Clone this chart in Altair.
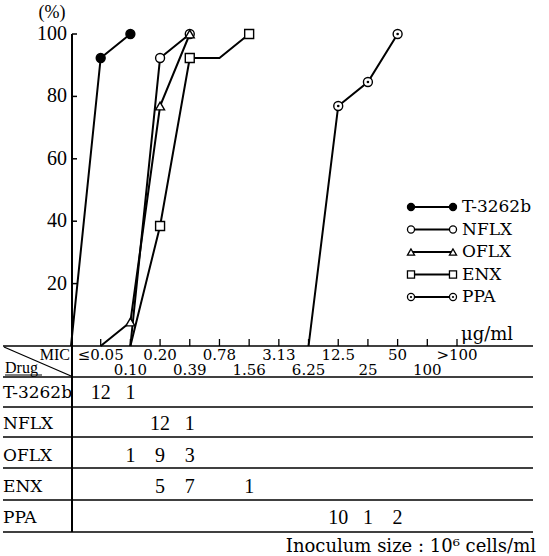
import altair as alt
import pandas as pd

# MIC classes (µg/ml); class k sits at position k+1 on the concentration axis
MIC_LABELS = ["≤0.05", "0.10", "0.20", "0.39", "0.78", "1.56", "3.13",
              "6.25", "12.5", "25", "50", "100", ">100"]
DRUGS = ["T-3262b", "NFLX", "OFLX", "ENX", "PPA"]

# number of strains inhibited at each MIC class
T3262B_COUNTS = [12, 1, 0, 0, 0, 0, 0, 0, 0, 0, 0, 0, 0]
NFLX_COUNTS = [0, 0, 12, 1, 0, 0, 0, 0, 0, 0, 0, 0, 0]
OFLX_COUNTS = [0, 1, 9, 3, 0, 0, 0, 0, 0, 0, 0, 0, 0]
ENX_COUNTS = [0, 0, 5, 7, 0, 1, 0, 0, 0, 0, 0, 0, 0]
PPA_COUNTS = [0, 0, 0, 0, 0, 0, 0, 0, 10, 1, 2, 0, 0]

Y_TICKS = [20, 40, 60, 80, 100]

COUNTS = dict(zip(DRUGS, [T3262B_COUNTS, NFLX_COUNTS, OFLX_COUNTS,
                          ENX_COUNTS, PPA_COUNTS]))

# cumulative curves: start at 0 % one class below the first hit
curve_rows, count_rows = [], []
for drug, counts in COUNTS.items():
    total = sum(counts)
    nz = [i for i, c in enumerate(counts) if c > 0]
    first, last = nz[0], nz[-1]
    curve_rows.append({"drug": drug, "pos": first, "pct": 0.0, "n": 0})
    cum = 0
    for i in range(first, last + 1):
        cum += counts[i]
        curve_rows.append({"drug": drug, "pos": i + 1,
                           "pct": 100.0 * cum / total, "n": counts[i]})
        if counts[i] > 0:
            count_rows.append({"drug": drug, "pos": i + 1, "n": str(counts[i])})
curve = pd.DataFrame(curve_rows)
marks = curve[curve["n"] > 0]
table_counts = pd.DataFrame(count_rows)

FONT = "Liberation Serif"
WIDE = "DejaVu Serif"

x_scale = alt.Scale(domain=[0, 13], range=[71, 457])
y_scale = alt.Scale(domain=[0, 100], range=[346, 34])
row_scale = alt.Scale(type="point", domain=DRUGS, range=[393, 518], padding=0)
shape_scale = alt.Scale(domain=DRUGS,
                        range=["circle", "circle", "triangle-up", "square", "circle"])
fill_scale = alt.Scale(domain=DRUGS,
                       range=["black", "white", "white", "white", "white"])

X = alt.X("pos:Q", scale=x_scale, axis=None)
Y = alt.Y("pct:Q", scale=y_scale, axis=None)

# --- cumulative curves -------------------------------------------------------
lines = alt.Chart(curve).mark_line(color="black", strokeWidth=2).encode(
    x=X, y=Y, detail="drug:N", order="pos:Q")

points = alt.Chart(marks).mark_point(
    filled=True, stroke="black", strokeWidth=1.4, size=80, opacity=1
).encode(
    x=X, y=Y,
    shape=alt.Shape("drug:N", scale=shape_scale, legend=None),
    fill=alt.Fill("drug:N", scale=fill_scale, legend=None),
)

ppa_dots = alt.Chart(marks[marks["drug"] == "PPA"]).mark_circle(
    size=7, color="black", opacity=1).encode(x=X, y=Y)

# --- y axis ------------------------------------------------------------------
ydf = pd.DataFrame({"pct": Y_TICKS})
y_line = alt.Chart(ydf).mark_rule(color="black", strokeWidth=1.6).encode(
    x=alt.value(72), y=alt.value(34), y2=alt.value(532))
y_ticks = alt.Chart(ydf).mark_rule(color="black", strokeWidth=1.5).encode(
    x=alt.value(72), x2=alt.value(77), y=Y)
y_labels = alt.Chart(ydf).mark_text(
    font=FONT, fontSize=20, align="right", baseline="middle"
).encode(x=alt.value(67), y=Y, text="pct:Q")
pct_title = alt.Chart(ydf.head(1)).mark_text(
    font=FONT, fontSize=18, align="center", baseline="middle"
).encode(x=alt.value(52), y=alt.value(13), text=alt.value("(%)"))

# --- concentration axis / table header ---------------------------------------
mic = pd.DataFrame({"label": MIC_LABELS, "pos": list(range(1, 14))})
mic["hy"] = [355 if p % 2 == 1 else 370 for p in mic["pos"]]
x_ticks = alt.Chart(mic).mark_rule(color="black", strokeWidth=1.3).encode(
    x=X, y=alt.value(339), y2=alt.value(346))
mic_labels = alt.Chart(mic).mark_text(
    font=WIDE, fontSize=15, align="center", baseline="middle"
).encode(x=X, y=alt.Y("hy:Q", scale=None, axis=None), text="label:N")
unit = alt.Chart(ydf.head(1)).mark_text(
    font=WIDE, fontSize=18, align="left", baseline="middle"
).encode(x=alt.value(461), y=alt.value(335), text=alt.value("μg/ml"))

# --- table frame -------------------------------------------------------------
hlines = pd.DataFrame({"y": [346, 377, 407, 437, 468, 500, 532]})
table_rules = alt.Chart(hlines).mark_rule(color="black", strokeWidth=1.5).encode(
    x=alt.value(3), x2=alt.value(533), y=alt.Y("y:Q", scale=None, axis=None))
diag = alt.Chart(ydf.head(1)).mark_rule(color="black", strokeWidth=1.3).encode(
    x=alt.value(4), y=alt.value(347), x2=alt.value(71), y2=alt.value(376))
mic_word = alt.Chart(ydf.head(1)).mark_text(
    font=FONT, fontSize=16, align="right", baseline="middle"
).encode(x=alt.value(70), y=alt.value(355), text=alt.value("MIC"))
drug_word = alt.Chart(ydf.head(1)).mark_text(
    font=FONT, fontSize=16, align="left", baseline="middle"
).encode(x=alt.value(5), y=alt.value(368), text=alt.value("Drug"))
drug_underline = alt.Chart(ydf.head(1)).mark_rule(color="black", strokeWidth=1).encode(
    x=alt.value(5), x2=alt.value(42), y=alt.value(375))

row_df = pd.DataFrame({"drug": DRUGS})
RY = alt.Y("drug:N", scale=row_scale, axis=None)
row_labels = alt.Chart(row_df).mark_text(
    font=WIDE, fontSize=17, align="left", baseline="middle"
).encode(x=alt.value(3), y=RY, text="drug:N")
cell_text = alt.Chart(table_counts).mark_text(
    font=FONT, fontSize=20, align="center", baseline="middle"
).encode(x=X, y=RY, text="n:N")

inoculum = alt.Chart(ydf.head(1)).mark_text(
    font=WIDE, fontSize=18, align="right", baseline="middle"
).encode(x=alt.value(536), y=alt.value(547),
         text=alt.value("Inoculum size : 10⁶ cells/ml"))

# --- legend ------------------------------------------------------------------
leg = pd.DataFrame({"drug": DRUGS, "ly": [207, 229.5, 252, 274.5, 297]})
LY = alt.Y("ly:Q", scale=None, axis=None)
leg_lines = alt.Chart(leg).mark_rule(color="black", strokeWidth=1.8).encode(
    x=alt.value(411), x2=alt.value(453), y=LY)
leg_ends = pd.concat([leg.assign(lx=411), leg.assign(lx=453)])
leg_points = alt.Chart(leg_ends).mark_point(
    filled=True, stroke="black", strokeWidth=1.3, size=50, opacity=1
).encode(
    x=alt.X("lx:Q", scale=None, axis=None), y=LY,
    shape=alt.Shape("drug:N", scale=shape_scale, legend=None),
    fill=alt.Fill("drug:N", scale=fill_scale, legend=None),
)
leg_dots = alt.Chart(leg_ends[leg_ends["drug"] == "PPA"]).mark_circle(
    size=5, color="black", opacity=1
).encode(x=alt.X("lx:Q", scale=None, axis=None), y=LY)
leg_text = alt.Chart(leg).mark_text(
    font=WIDE, fontSize=17, align="left", baseline="middle"
).encode(x=alt.value(462), y=LY, text="drug:N")

chart = alt.layer(
    table_rules, diag, y_line, y_ticks, y_labels, pct_title,
    x_ticks, mic_labels, unit, mic_word, drug_word, drug_underline,
    row_labels, cell_text, inoculum,
    lines, points, ppa_dots,
    leg_lines, leg_points, leg_dots, leg_text,
).resolve_scale(
    x="independent", y="independent"
).properties(
    width=549, height=556, autosize="none", padding=0, background="white"
).configure_view(stroke=None)

chart.save("out.html", embed_options={"renderer": "svg", "actions": False})
